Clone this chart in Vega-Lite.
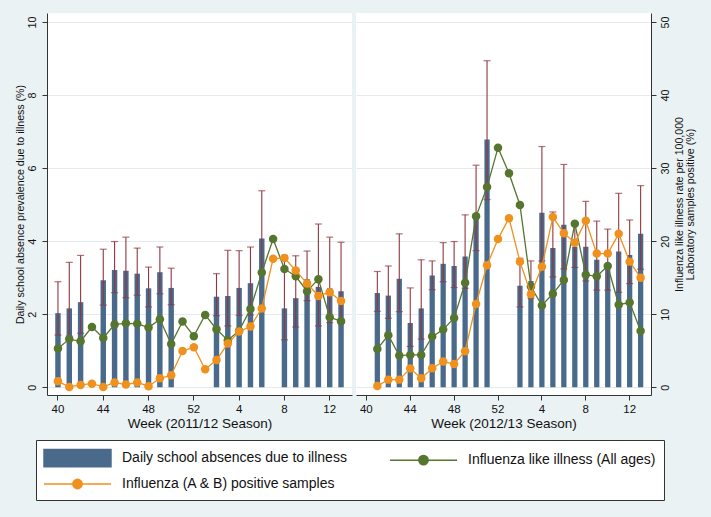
{
  "$schema": "https://vega.github.io/schema/vega-lite/v6.json",
  "background": "#eaf2f3",
  "padding": {"left": 15, "top": 13, "right": 17, "bottom": 19},
  "config": {
    "font": "Liberation Sans",
    "view": {"fill": "white", "stroke": null},
    "axis": {"domainColor": "#333333", "tickColor": "#333333", "labelColor": "#111111", "titleColor": "#111111", "labelFont": "Liberation Sans", "titleFont": "Liberation Sans", "titleFontWeight": "normal", "gridColor": "#e3ebef", "tickSize": 5},
    "concat": {"spacing": 4}
  },
  "datasets": {
    "s1112": [
      {"week": 40, "abs": 2.03, "lo": 1.43, "hi": 2.89, "ili": 5.3, "flu": 0.82},
      {"week": 41, "abs": 2.16, "lo": 1.4, "hi": 3.42, "ili": 6.6, "flu": 0.05},
      {"week": 42, "abs": 2.33, "lo": 1.48, "hi": 3.61, "ili": 6.3, "flu": 0.32},
      {"week": 43, "abs": null, "lo": null, "hi": null, "ili": 8.25, "flu": 0.5},
      {"week": 44, "abs": 2.93, "lo": 2.25, "hi": 3.78, "ili": 6.75, "flu": 0.05},
      {"week": 45, "abs": 3.21, "lo": 2.59, "hi": 3.99, "ili": 8.6, "flu": 0.66},
      {"week": 46, "abs": 3.19, "lo": 2.45, "hi": 4.11, "ili": 8.75, "flu": 0.37},
      {"week": 47, "abs": 3.11, "lo": 2.52, "hi": 3.81, "ili": 8.7, "flu": 0.66},
      {"week": 48, "abs": 2.71, "lo": 2.2, "hi": 3.29, "ili": 8.18, "flu": 0.15},
      {"week": 49, "abs": 3.15, "lo": 2.56, "hi": 3.84, "ili": 9.3, "flu": 1.23},
      {"week": 50, "abs": 2.72, "lo": 2.26, "hi": 3.26, "ili": 5.93, "flu": 1.64},
      {"week": 51, "abs": null, "lo": null, "hi": null, "ili": 9.0, "flu": 4.97},
      {"week": 52, "abs": null, "lo": null, "hi": null, "ili": 7.0, "flu": 5.48},
      {"week": 1, "abs": null, "lo": null, "hi": null, "ili": 9.91, "flu": 2.47},
      {"week": 2, "abs": 2.48, "lo": 1.96, "hi": 3.11, "ili": 7.95, "flu": 3.74},
      {"week": 3, "abs": 2.5, "lo": 1.68, "hi": 3.75, "ili": 6.44, "flu": 5.98},
      {"week": 4, "abs": 2.72, "lo": 1.97, "hi": 3.74, "ili": 7.75, "flu": 7.63},
      {"week": 5, "abs": 2.85, "lo": 1.98, "hi": 3.84, "ili": 10.7, "flu": 8.31},
      {"week": 6, "abs": 4.07, "lo": 3.1, "hi": 5.38, "ili": 15.7, "flu": 10.8},
      {"week": 7, "abs": null, "lo": null, "hi": null, "ili": 20.3, "flu": 17.6},
      {"week": 8, "abs": 2.16, "lo": 1.3, "hi": 3.61, "ili": 16.2, "flu": 17.7},
      {"week": 9, "abs": 2.44, "lo": 1.65, "hi": 3.6, "ili": 15.2, "flu": 16.0},
      {"week": 10, "abs": 2.96, "lo": 2.37, "hi": 3.73, "ili": 13.15, "flu": 14.2},
      {"week": 11, "abs": 2.75, "lo": 1.68, "hi": 4.47, "ili": 14.8, "flu": 12.5},
      {"week": 12, "abs": 2.71, "lo": 1.77, "hi": 4.11, "ili": 9.59, "flu": 13.0},
      {"week": 13, "abs": 2.63, "lo": 1.75, "hi": 3.97, "ili": 9.04, "flu": 11.8}
    ],
    "s1213": [
      {"week": 41, "abs": 2.58, "lo": 2.08, "hi": 3.17, "ili": 5.25, "flu": 0.18},
      {"week": 42, "abs": 2.51, "lo": 1.89, "hi": 3.32, "ili": 7.12, "flu": 1.05},
      {"week": 43, "abs": 2.97, "lo": 2.07, "hi": 4.2, "ili": 4.34, "flu": 1.05},
      {"week": 44, "abs": 1.76, "lo": 1.12, "hi": 2.72, "ili": 4.43, "flu": 2.56},
      {"week": 45, "abs": 2.16, "lo": 1.32, "hi": 3.49, "ili": 4.43, "flu": 1.23},
      {"week": 46, "abs": 3.06, "lo": 2.67, "hi": 3.46, "ili": 6.94, "flu": 2.6},
      {"week": 47, "abs": 3.38, "lo": 2.89, "hi": 3.96, "ili": 7.9, "flu": 3.52},
      {"week": 48, "abs": 3.32, "lo": 2.73, "hi": 3.99, "ili": 9.5, "flu": 3.2},
      {"week": 49, "abs": 3.58, "lo": 2.71, "hi": 4.72, "ili": 14.3, "flu": 4.93},
      {"week": 50, "abs": 4.73, "lo": 3.74, "hi": 6.08, "ili": 23.4, "flu": 11.4},
      {"week": 51, "abs": 6.78, "lo": 5.14, "hi": 8.94, "ili": 27.4, "flu": 16.7},
      {"week": 52, "abs": null, "lo": null, "hi": null, "ili": 32.8, "flu": 20.3},
      {"week": 1, "abs": null, "lo": null, "hi": null, "ili": 29.3, "flu": 23.15},
      {"week": 2, "abs": 2.78, "lo": 2.2, "hi": 3.53, "ili": 24.95, "flu": 17.2},
      {"week": 3, "abs": 2.91, "lo": 2.44, "hi": 3.46, "ili": 13.8, "flu": 12.75},
      {"week": 4, "abs": 4.78, "lo": 3.46, "hi": 6.59, "ili": 11.2, "flu": 16.5},
      {"week": 5, "abs": 3.81, "lo": 3.02, "hi": 4.8, "ili": 12.8, "flu": 23.3},
      {"week": 6, "abs": 4.45, "lo": 3.24, "hi": 6.1, "ili": 14.7, "flu": 21.1},
      {"week": 7, "abs": 3.85, "lo": 3.28, "hi": 4.49, "ili": 22.4, "flu": 19.8},
      {"week": 8, "abs": 3.85, "lo": 2.91, "hi": 5.09, "ili": 15.4, "flu": 22.8},
      {"week": 9, "abs": 3.49, "lo": 2.66, "hi": 4.55, "ili": 15.2, "flu": 18.3},
      {"week": 10, "abs": 3.4, "lo": 2.66, "hi": 4.33, "ili": 16.6, "flu": 18.3},
      {"week": 11, "abs": 3.72, "lo": 2.6, "hi": 5.31, "ili": 11.3, "flu": 21.0},
      {"week": 12, "abs": 3.62, "lo": 2.84, "hi": 4.58, "ili": 11.6, "flu": 17.2},
      {"week": 13, "abs": 4.2, "lo": 3.23, "hi": 5.52, "ili": 7.7, "flu": 15.0}
    ]
  },
  "hconcat": [
    {
      "width": 305,
      "height": 382,
      "data": {"name": "s1112"},
      "encoding": {
        "x": {"field": "week", "type": "ordinal",
          "scale": {"domain": [40,41,42,43,44,45,46,47,48,49,50,51,52,1,2,3,4,5,6,7,8,9,10,11,12,13], "paddingInner": 0.52, "paddingOuter": 0.728},
          "axis": {"values": [40,44,48,52,4,8,12], "labelAngle": 0, "labelFontSize": 11.5, "labelPadding": 3, "title": "Week (2011/12 Season)", "titleFontSize": 13.5, "titlePadding": 2, "grid": false}}
      },
      "layer": [
        {"layer": [
          {"mark": {"type": "bar"},
           "encoding": {
             "y": {"field": "abs", "type": "quantitative", "scale": {"domain": [-0.211, 10.246], "nice": false, "zero": false},
               "axis": {"orient": "left", "values": [0,2,4,6,8,10], "grid": true, "labelAngle": -90, "labelAlign": "center", "labelBaseline": "bottom", "labelFontSize": 10.8, "labelPadding": 5, "title": "Daily school absence prevalence due to illness (%)", "titleFontSize": 10.6, "titlePadding": 1}},
             "y2": {"datum": 0},
             "color": {"datum": "Daily school absences due to illness",
               "scale": {"domain": ["Daily school absences due to illness", "Influenza like illness (All ages)", "Influenza (A & B) positive samples"], "range": ["#4a6a8c", "#56762f", "#f0911e"]},
               "legend": {"orient": "none", "legendX": -11, "legendY": 427, "direction": "horizontal", "columns": 2, "title": null,
                 "symbolSize": 324, "symbolStrokeWidth": 1.5, "symbolOffset": 0, "labelOffset": 58, "labelFontSize": 14, "labelFont": "Liberation Sans", "labelColor": "#111111", "labelLimit": 400,
                 "rowPadding": 4, "columnPadding": 40, "padding": 8, "fillColor": "white", "strokeColor": "#333333",
                 "encode": {"symbols": {"update": {
                   "shape": {"signal": "datum.value === 'Daily school absences due to illness' ? 'M-1.11,-0.96H6.33V0.96H-1.11Z' : 'M-1.11,0H6.33M2.09,0A0.52,0.52,0,1,1,3.13,0A0.52,0.52,0,1,1,2.09,0Z'"},
                   "fill": {"signal": "datum.value === 'Daily school absences due to illness' ? '#4a6a8c' : datum.value === 'Influenza like illness (All ages)' ? '#56762f' : '#f0911e'"},
                   "stroke": {"signal": "datum.value === 'Daily school absences due to illness' ? '#4a6a8c' : datum.value === 'Influenza like illness (All ages)' ? '#56762f' : '#f0911e'"},
                   "strokeWidth": {"value": 1.5},
                   "opacity": {"value": 1}
                 }}}}}
           }},
          {"mark": {"type": "rule", "color": "#913640", "strokeWidth": 1.1},
           "encoding": {"y": {"field": "lo", "type": "quantitative"}, "y2": {"field": "hi"}}},
          {"mark": {"type": "tick", "color": "#913640", "size": 7, "thickness": 1.2},
           "encoding": {"y": {"field": "lo", "type": "quantitative"}}},
          {"mark": {"type": "tick", "color": "#913640", "size": 7, "thickness": 1.2},
           "encoding": {"y": {"field": "hi", "type": "quantitative"}}}
        ]},
        {"layer": [
          {"mark": {"type": "line", "strokeWidth": 1.3, "point": {"filled": true, "size": 72, "opacity": 1}},
           "encoding": {
             "y": {"field": "ili", "type": "quantitative", "scale": {"domain": [-1.054, 51.23], "nice": false, "zero": false}, "axis": null},
             "color": {"datum": "Influenza like illness (All ages)",
               "scale": {"domain": ["Daily school absences due to illness", "Influenza like illness (All ages)", "Influenza (A & B) positive samples"], "range": ["#4a6a8c", "#56762f", "#f0911e"]}},
             "order": {"value": null}}},
          {"mark": {"type": "line", "strokeWidth": 1.3, "point": {"filled": true, "size": 72, "opacity": 1}},
           "encoding": {
             "y": {"field": "flu", "type": "quantitative"},
             "color": {"datum": "Influenza (A & B) positive samples",
               "scale": {"domain": ["Daily school absences due to illness", "Influenza like illness (All ages)", "Influenza (A & B) positive samples"], "range": ["#4a6a8c", "#56762f", "#f0911e"]}},
             "order": {"value": null}}}
        ]}
      ],
      "resolve": {"scale": {"y": "independent"}}
    },
    {
      "width": 295,
      "height": 382,
      "data": {"name": "s1213"},
      "encoding": {
        "x": {"field": "week", "type": "ordinal",
          "scale": {"domain": [40,41,42,43,44,45,46,47,48,49,50,51,52,1,2,3,4,5,6,7,8,9,10,11,12,13], "paddingInner": 0.52, "paddingOuter": 0.705},
          "axis": {"values": [40,44,48,52,4,8,12], "labelAngle": 0, "labelFontSize": 11.5, "labelPadding": 3, "title": "Week (2012/13 Season)", "titleFontSize": 13.5, "titlePadding": 2, "grid": false}}
      },
      "layer": [
        {"layer": [
          {"mark": {"type": "bar"},
           "encoding": {
             "y": {"field": "abs", "type": "quantitative", "scale": {"domain": [-0.211, 10.246], "nice": false, "zero": false}, "axis": null},
             "y2": {"datum": 0},
             "color": {"datum": "Daily school absences due to illness",
               "scale": {"domain": ["Daily school absences due to illness", "Influenza like illness (All ages)", "Influenza (A & B) positive samples"], "range": ["#4a6a8c", "#56762f", "#f0911e"]}}
           }},
          {"mark": {"type": "rule", "color": "#913640", "strokeWidth": 1.1},
           "encoding": {"y": {"field": "lo", "type": "quantitative"}, "y2": {"field": "hi"}}},
          {"mark": {"type": "tick", "color": "#913640", "size": 7, "thickness": 1.2},
           "encoding": {"y": {"field": "lo", "type": "quantitative"}}},
          {"mark": {"type": "tick", "color": "#913640", "size": 7, "thickness": 1.2},
           "encoding": {"y": {"field": "hi", "type": "quantitative"}}}
        ]},
        {"layer": [
          {"mark": {"type": "line", "strokeWidth": 1.3, "point": {"filled": true, "size": 72, "opacity": 1}},
           "encoding": {
             "y": {"field": "ili", "type": "quantitative", "scale": {"domain": [-1.054, 51.23], "nice": false, "zero": false},
               "axis": {"orient": "right", "values": [0,10,20,30,40,50], "grid": true, "labelAngle": -90, "labelAlign": "center", "labelBaseline": "top", "labelFontSize": 10.8, "labelPadding": 3,
                 "title": ["Influenza like illness rate per 100,000", "Laboratory samples positive (%)"], "titleAngle": -90, "titleBaseline": "top", "titleFontSize": 10.6, "titleLineHeight": 11.5, "titlePadding": -7}},
             "color": {"datum": "Influenza like illness (All ages)",
               "scale": {"domain": ["Daily school absences due to illness", "Influenza like illness (All ages)", "Influenza (A & B) positive samples"], "range": ["#4a6a8c", "#56762f", "#f0911e"]}},
             "order": {"value": null}}},
          {"mark": {"type": "line", "strokeWidth": 1.3, "point": {"filled": true, "size": 72, "opacity": 1}},
           "encoding": {
             "y": {"field": "flu", "type": "quantitative"},
             "color": {"datum": "Influenza (A & B) positive samples",
               "scale": {"domain": ["Daily school absences due to illness", "Influenza like illness (All ages)", "Influenza (A & B) positive samples"], "range": ["#4a6a8c", "#56762f", "#f0911e"]}},
             "order": {"value": null}}}
        ]}
      ],
      "resolve": {"scale": {"y": "independent"}}
    }
  ]
}
